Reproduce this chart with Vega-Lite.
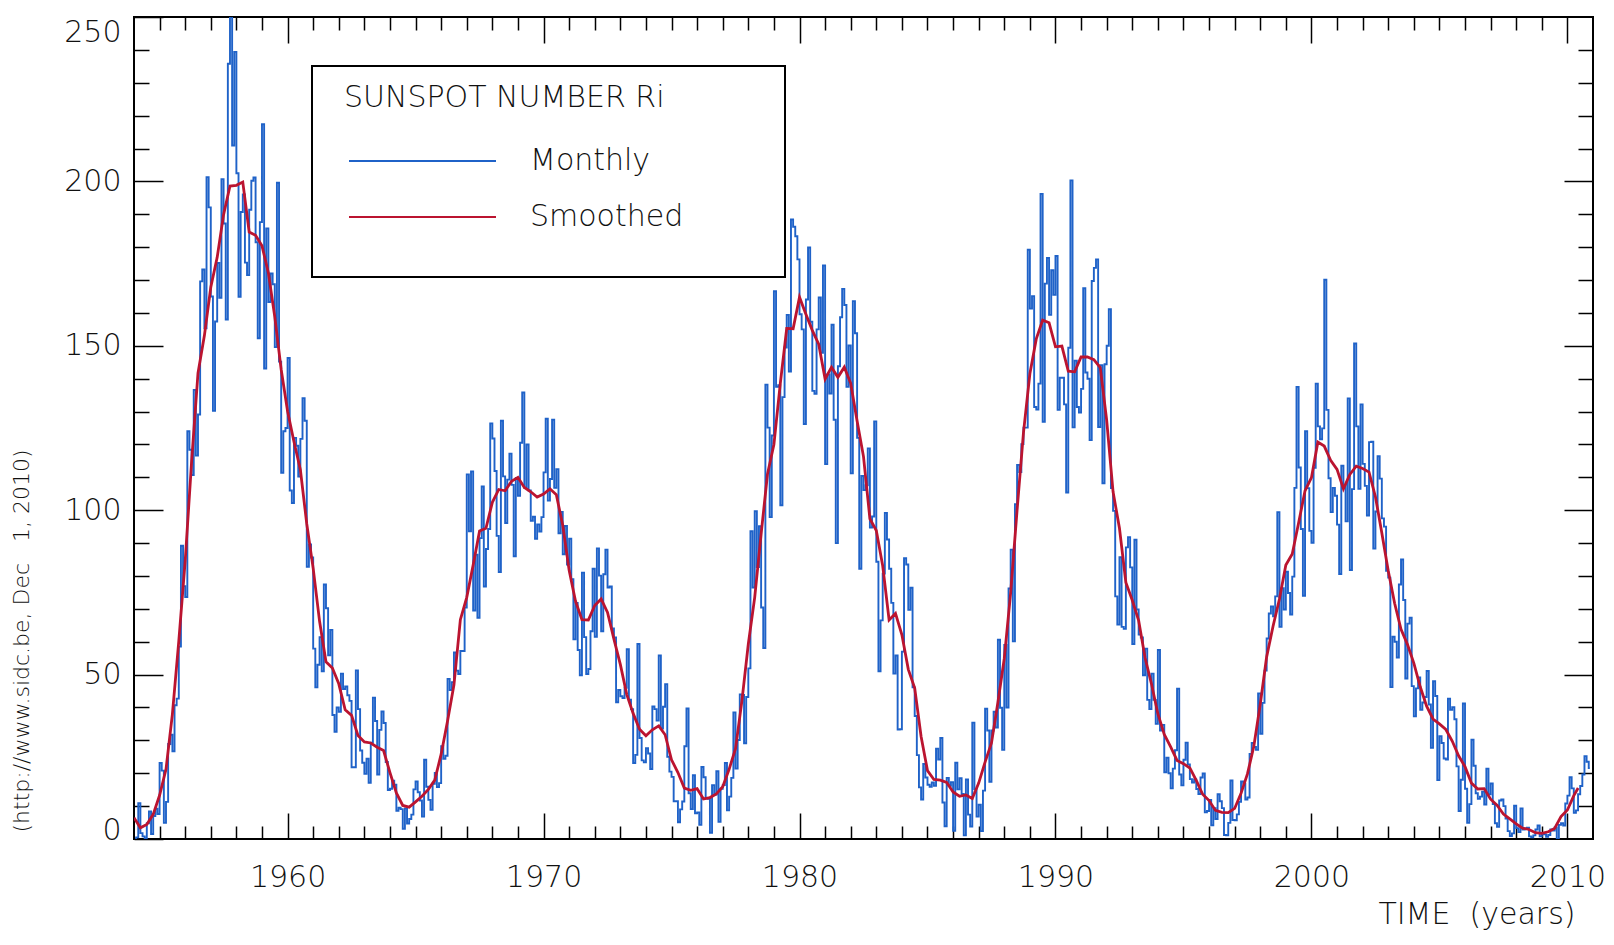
{
"$schema":"https://vega.github.io/schema/vega-lite/v6.json",
"width":1459,"height":822,
"autosize":{"type":"none"},
"padding":{"left":134,"top":17,"right":21,"bottom":106},
"background":"white",
"config":{
"view":{"stroke":"black","strokeWidth":2},
"axis":{"labelFont":"DejaVu Sans","labelFontSize":30,"labelFontWeight":200,"labelColor":"#111111","titleFont":"DejaVu Sans","titleFontSize":30,"titleFontWeight":200,"titleColor":"#111111","tickColor":"black","tickWidth":1.5,"domain":false,"grid":false}
},
"resolve":{"axis":{"x":"independent","y":"independent"}},
"datasets":{
"monthly":[
{"t":1954.042,"v":0.2},{"t":1954.125,"v":0.5},{"t":1954.208,"v":10.9},{"t":1954.292,"v":1.8},{"t":1954.375,"v":0.8},{"t":1954.458,"v":0.2},{"t":1954.542,"v":4.8},{"t":1954.625,"v":8.4},{"t":1954.708,"v":1.5},{"t":1954.792,"v":7.0},{"t":1954.875,"v":9.2},{"t":1954.958,"v":7.6},
{"t":1955.042,"v":23.1},{"t":1955.125,"v":20.8},{"t":1955.208,"v":4.9},{"t":1955.292,"v":11.3},{"t":1955.375,"v":28.9},{"t":1955.458,"v":31.7},{"t":1955.542,"v":26.7},{"t":1955.625,"v":40.7},{"t":1955.708,"v":42.7},{"t":1955.792,"v":58.5},{"t":1955.875,"v":89.2},{"t":1955.958,"v":76.9},
{"t":1956.042,"v":73.6},{"t":1956.125,"v":124.0},{"t":1956.208,"v":118.4},{"t":1956.292,"v":110.7},{"t":1956.375,"v":136.6},{"t":1956.458,"v":116.6},{"t":1956.542,"v":129.1},{"t":1956.625,"v":169.6},{"t":1956.708,"v":173.2},{"t":1956.792,"v":155.3},{"t":1956.875,"v":201.3},{"t":1956.958,"v":192.1},
{"t":1957.042,"v":165.0},{"t":1957.125,"v":130.2},{"t":1957.208,"v":157.4},{"t":1957.292,"v":175.2},{"t":1957.375,"v":164.6},{"t":1957.458,"v":200.7},{"t":1957.542,"v":187.2},{"t":1957.625,"v":158.0},{"t":1957.708,"v":235.8},{"t":1957.792,"v":253.8},{"t":1957.875,"v":210.9},{"t":1957.958,"v":239.4},
{"t":1958.042,"v":202.5},{"t":1958.125,"v":164.9},{"t":1958.208,"v":190.7},{"t":1958.292,"v":196.0},{"t":1958.375,"v":175.3},{"t":1958.458,"v":171.5},{"t":1958.542,"v":191.4},{"t":1958.625,"v":200.2},{"t":1958.708,"v":201.2},{"t":1958.792,"v":181.5},{"t":1958.875,"v":152.3},{"t":1958.958,"v":187.6},
{"t":1959.042,"v":217.4},{"t":1959.125,"v":143.1},{"t":1959.208,"v":185.7},{"t":1959.292,"v":163.3},{"t":1959.375,"v":172.0},{"t":1959.458,"v":168.7},{"t":1959.542,"v":149.6},{"t":1959.625,"v":199.6},{"t":1959.708,"v":145.2},{"t":1959.792,"v":111.4},{"t":1959.875,"v":124.0},{"t":1959.958,"v":125.0},
{"t":1960.042,"v":146.3},{"t":1960.125,"v":106.0},{"t":1960.208,"v":102.2},{"t":1960.292,"v":122.0},{"t":1960.375,"v":119.6},{"t":1960.458,"v":110.2},{"t":1960.542,"v":121.7},{"t":1960.625,"v":134.1},{"t":1960.708,"v":127.2},{"t":1960.792,"v":82.8},{"t":1960.875,"v":89.6},{"t":1960.958,"v":85.6},
{"t":1961.042,"v":57.9},{"t":1961.125,"v":46.1},{"t":1961.208,"v":53.0},{"t":1961.292,"v":61.4},{"t":1961.375,"v":51.0},{"t":1961.458,"v":77.4},{"t":1961.542,"v":70.2},{"t":1961.625,"v":55.9},{"t":1961.708,"v":63.6},{"t":1961.792,"v":37.7},{"t":1961.875,"v":32.6},{"t":1961.958,"v":40.0},
{"t":1962.042,"v":38.7},{"t":1962.125,"v":50.3},{"t":1962.208,"v":45.6},{"t":1962.292,"v":46.4},{"t":1962.375,"v":43.7},{"t":1962.458,"v":42.0},{"t":1962.542,"v":21.8},{"t":1962.625,"v":21.8},{"t":1962.708,"v":51.3},{"t":1962.792,"v":39.5},{"t":1962.875,"v":26.9},{"t":1962.958,"v":23.2},
{"t":1963.042,"v":19.8},{"t":1963.125,"v":24.4},{"t":1963.208,"v":17.1},{"t":1963.292,"v":29.3},{"t":1963.375,"v":43.0},{"t":1963.458,"v":35.9},{"t":1963.542,"v":19.6},{"t":1963.625,"v":33.2},{"t":1963.708,"v":38.8},{"t":1963.792,"v":35.3},{"t":1963.875,"v":23.4},{"t":1963.958,"v":14.9},
{"t":1964.042,"v":15.3},{"t":1964.125,"v":17.7},{"t":1964.208,"v":16.5},{"t":1964.292,"v":8.6},{"t":1964.375,"v":9.5},{"t":1964.458,"v":9.1},{"t":1964.542,"v":3.1},{"t":1964.625,"v":9.3},{"t":1964.708,"v":4.7},{"t":1964.792,"v":6.1},{"t":1964.875,"v":7.4},{"t":1964.958,"v":15.1},
{"t":1965.042,"v":17.5},{"t":1965.125,"v":14.2},{"t":1965.208,"v":11.7},{"t":1965.292,"v":6.8},{"t":1965.375,"v":24.1},{"t":1965.458,"v":15.9},{"t":1965.542,"v":11.9},{"t":1965.625,"v":8.9},{"t":1965.708,"v":16.8},{"t":1965.792,"v":20.1},{"t":1965.875,"v":15.8},{"t":1965.958,"v":17.0},
{"t":1966.042,"v":28.2},{"t":1966.125,"v":24.4},{"t":1966.208,"v":25.3},{"t":1966.292,"v":48.7},{"t":1966.375,"v":45.3},{"t":1966.458,"v":47.7},{"t":1966.542,"v":56.7},{"t":1966.625,"v":51.2},{"t":1966.708,"v":50.2},{"t":1966.792,"v":57.2},{"t":1966.875,"v":57.2},{"t":1966.958,"v":70.4},
{"t":1967.042,"v":110.9},{"t":1967.125,"v":93.6},{"t":1967.208,"v":111.8},{"t":1967.292,"v":69.5},{"t":1967.375,"v":86.5},{"t":1967.458,"v":67.3},{"t":1967.542,"v":91.5},{"t":1967.625,"v":107.2},{"t":1967.708,"v":76.8},{"t":1967.792,"v":88.2},{"t":1967.875,"v":94.3},{"t":1967.958,"v":126.4},
{"t":1968.042,"v":121.8},{"t":1968.125,"v":111.9},{"t":1968.208,"v":92.2},{"t":1968.292,"v":81.2},{"t":1968.375,"v":127.2},{"t":1968.458,"v":110.3},{"t":1968.542,"v":96.1},{"t":1968.625,"v":109.3},{"t":1968.708,"v":117.2},{"t":1968.792,"v":107.7},{"t":1968.875,"v":86.0},{"t":1968.958,"v":109.8},
{"t":1969.042,"v":104.4},{"t":1969.125,"v":120.5},{"t":1969.208,"v":135.8},{"t":1969.292,"v":106.8},{"t":1969.375,"v":120.0},{"t":1969.458,"v":106.0},{"t":1969.542,"v":96.8},{"t":1969.625,"v":98.0},{"t":1969.708,"v":91.3},{"t":1969.792,"v":95.7},{"t":1969.875,"v":93.5},{"t":1969.958,"v":97.9},
{"t":1970.042,"v":111.5},{"t":1970.125,"v":127.8},{"t":1970.208,"v":102.9},{"t":1970.292,"v":109.5},{"t":1970.375,"v":127.5},{"t":1970.458,"v":106.8},{"t":1970.542,"v":112.5},{"t":1970.625,"v":93.0},{"t":1970.708,"v":99.5},{"t":1970.792,"v":86.6},{"t":1970.875,"v":95.2},{"t":1970.958,"v":83.5},
{"t":1971.042,"v":91.3},{"t":1971.125,"v":79.0},{"t":1971.208,"v":60.7},{"t":1971.292,"v":71.8},{"t":1971.375,"v":57.5},{"t":1971.458,"v":49.8},{"t":1971.542,"v":81.0},{"t":1971.625,"v":61.4},{"t":1971.708,"v":50.2},{"t":1971.792,"v":51.7},{"t":1971.875,"v":63.2},{"t":1971.958,"v":82.2},
{"t":1972.042,"v":61.5},{"t":1972.125,"v":88.4},{"t":1972.208,"v":80.1},{"t":1972.292,"v":63.2},{"t":1972.375,"v":80.5},{"t":1972.458,"v":88.0},{"t":1972.542,"v":76.5},{"t":1972.625,"v":76.8},{"t":1972.708,"v":64.0},{"t":1972.792,"v":61.3},{"t":1972.875,"v":41.6},{"t":1972.958,"v":45.3},
{"t":1973.042,"v":43.4},{"t":1973.125,"v":42.9},{"t":1973.208,"v":46.0},{"t":1973.292,"v":57.7},{"t":1973.375,"v":42.4},{"t":1973.458,"v":39.5},{"t":1973.542,"v":23.1},{"t":1973.625,"v":25.6},{"t":1973.708,"v":59.3},{"t":1973.792,"v":30.7},{"t":1973.875,"v":23.9},{"t":1973.958,"v":23.3},
{"t":1974.042,"v":27.6},{"t":1974.125,"v":26.0},{"t":1974.208,"v":21.3},{"t":1974.292,"v":40.3},{"t":1974.375,"v":39.5},{"t":1974.458,"v":36.0},{"t":1974.542,"v":55.8},{"t":1974.625,"v":33.6},{"t":1974.708,"v":40.2},{"t":1974.792,"v":47.1},{"t":1974.875,"v":25.0},{"t":1974.958,"v":20.5},
{"t":1975.042,"v":18.9},{"t":1975.125,"v":11.5},{"t":1975.208,"v":11.5},{"t":1975.292,"v":5.1},{"t":1975.375,"v":9.0},{"t":1975.458,"v":11.4},{"t":1975.542,"v":28.2},{"t":1975.625,"v":39.7},{"t":1975.708,"v":13.9},{"t":1975.792,"v":9.1},{"t":1975.875,"v":19.4},{"t":1975.958,"v":7.8},
{"t":1976.042,"v":8.1},{"t":1976.125,"v":4.3},{"t":1976.208,"v":21.9},{"t":1976.292,"v":18.8},{"t":1976.375,"v":12.4},{"t":1976.458,"v":12.2},{"t":1976.542,"v":1.9},{"t":1976.625,"v":16.4},{"t":1976.708,"v":13.5},{"t":1976.792,"v":20.6},{"t":1976.875,"v":5.2},{"t":1976.958,"v":15.3},
{"t":1977.042,"v":16.4},{"t":1977.125,"v":23.1},{"t":1977.208,"v":8.7},{"t":1977.292,"v":12.9},{"t":1977.375,"v":18.6},{"t":1977.458,"v":38.5},{"t":1977.542,"v":21.4},{"t":1977.625,"v":30.1},{"t":1977.708,"v":44.0},{"t":1977.792,"v":43.8},{"t":1977.875,"v":29.1},{"t":1977.958,"v":43.2},
{"t":1978.042,"v":51.9},{"t":1978.125,"v":93.6},{"t":1978.208,"v":76.5},{"t":1978.292,"v":99.7},{"t":1978.375,"v":82.7},{"t":1978.458,"v":95.1},{"t":1978.542,"v":70.4},{"t":1978.625,"v":58.1},{"t":1978.708,"v":138.2},{"t":1978.792,"v":125.1},{"t":1978.875,"v":97.9},{"t":1978.958,"v":122.7},
{"t":1979.042,"v":166.6},{"t":1979.125,"v":137.5},{"t":1979.208,"v":138.0},{"t":1979.292,"v":101.5},{"t":1979.375,"v":134.4},{"t":1979.458,"v":149.5},{"t":1979.542,"v":159.4},{"t":1979.625,"v":142.2},{"t":1979.708,"v":188.4},{"t":1979.792,"v":186.2},{"t":1979.875,"v":183.3},{"t":1979.958,"v":176.3},
{"t":1980.042,"v":159.6},{"t":1980.125,"v":155.0},{"t":1980.208,"v":126.2},{"t":1980.292,"v":164.1},{"t":1980.375,"v":179.9},{"t":1980.458,"v":157.3},{"t":1980.542,"v":136.3},{"t":1980.625,"v":135.4},{"t":1980.708,"v":155.0},{"t":1980.792,"v":164.7},{"t":1980.875,"v":147.9},{"t":1980.958,"v":174.4},
{"t":1981.042,"v":114.0},{"t":1981.125,"v":141.3},{"t":1981.208,"v":135.5},{"t":1981.292,"v":156.4},{"t":1981.375,"v":127.5},{"t":1981.458,"v":90.0},{"t":1981.542,"v":143.8},{"t":1981.625,"v":158.7},{"t":1981.708,"v":167.3},{"t":1981.792,"v":162.4},{"t":1981.875,"v":137.5},{"t":1981.958,"v":150.1},
{"t":1982.042,"v":111.2},{"t":1982.125,"v":163.6},{"t":1982.208,"v":153.8},{"t":1982.292,"v":122.0},{"t":1982.375,"v":82.2},{"t":1982.458,"v":110.4},{"t":1982.542,"v":106.1},{"t":1982.625,"v":107.6},{"t":1982.708,"v":118.8},{"t":1982.792,"v":94.7},{"t":1982.875,"v":98.1},{"t":1982.958,"v":127.0},
{"t":1983.042,"v":84.3},{"t":1983.125,"v":51.0},{"t":1983.208,"v":66.5},{"t":1983.292,"v":80.7},{"t":1983.375,"v":99.2},{"t":1983.458,"v":91.1},{"t":1983.542,"v":82.2},{"t":1983.625,"v":71.8},{"t":1983.708,"v":50.3},{"t":1983.792,"v":55.8},{"t":1983.875,"v":33.3},{"t":1983.958,"v":33.4},
{"t":1984.042,"v":57.0},{"t":1984.125,"v":85.4},{"t":1984.208,"v":83.5},{"t":1984.292,"v":69.7},{"t":1984.375,"v":76.4},{"t":1984.458,"v":46.1},{"t":1984.542,"v":37.4},{"t":1984.625,"v":25.5},{"t":1984.708,"v":15.7},{"t":1984.792,"v":12.0},{"t":1984.875,"v":22.8},{"t":1984.958,"v":18.7},
{"t":1985.042,"v":16.5},{"t":1985.125,"v":15.9},{"t":1985.208,"v":17.2},{"t":1985.292,"v":16.2},{"t":1985.375,"v":27.5},{"t":1985.458,"v":24.2},{"t":1985.542,"v":30.7},{"t":1985.625,"v":11.1},{"t":1985.708,"v":3.9},{"t":1985.792,"v":18.6},{"t":1985.875,"v":16.2},{"t":1985.958,"v":17.3},
{"t":1986.042,"v":2.5},{"t":1986.125,"v":23.2},{"t":1986.208,"v":15.1},{"t":1986.292,"v":18.5},{"t":1986.375,"v":13.7},{"t":1986.458,"v":1.1},{"t":1986.542,"v":18.1},{"t":1986.625,"v":7.4},{"t":1986.708,"v":3.8},{"t":1986.792,"v":35.4},{"t":1986.875,"v":15.2},{"t":1986.958,"v":6.8},
{"t":1987.042,"v":10.4},{"t":1987.125,"v":2.4},{"t":1987.208,"v":14.7},{"t":1987.292,"v":39.6},{"t":1987.375,"v":33.0},{"t":1987.458,"v":17.4},{"t":1987.542,"v":33.0},{"t":1987.625,"v":38.7},{"t":1987.708,"v":33.9},{"t":1987.792,"v":60.6},{"t":1987.875,"v":39.9},{"t":1987.958,"v":27.1},
{"t":1988.042,"v":59.0},{"t":1988.125,"v":40.0},{"t":1988.208,"v":76.2},{"t":1988.292,"v":88.0},{"t":1988.375,"v":60.1},{"t":1988.458,"v":101.8},{"t":1988.542,"v":113.8},{"t":1988.625,"v":111.6},{"t":1988.708,"v":120.1},{"t":1988.792,"v":125.1},{"t":1988.875,"v":125.1},{"t":1988.958,"v":179.2},
{"t":1989.042,"v":161.3},{"t":1989.125,"v":165.1},{"t":1989.208,"v":131.4},{"t":1989.292,"v":130.6},{"t":1989.375,"v":138.5},{"t":1989.458,"v":196.2},{"t":1989.542,"v":126.9},{"t":1989.625,"v":168.9},{"t":1989.708,"v":176.7},{"t":1989.792,"v":159.4},{"t":1989.875,"v":173.0},{"t":1989.958,"v":165.5},
{"t":1990.042,"v":177.3},{"t":1990.125,"v":130.5},{"t":1990.208,"v":140.3},{"t":1990.292,"v":140.3},{"t":1990.375,"v":132.2},{"t":1990.458,"v":105.4},{"t":1990.542,"v":149.4},{"t":1990.625,"v":200.3},{"t":1990.708,"v":125.2},{"t":1990.792,"v":145.5},{"t":1990.875,"v":131.4},{"t":1990.958,"v":129.7},
{"t":1991.042,"v":136.9},{"t":1991.125,"v":167.5},{"t":1991.208,"v":141.9},{"t":1991.292,"v":140.0},{"t":1991.375,"v":121.3},{"t":1991.458,"v":169.7},{"t":1991.542,"v":173.7},{"t":1991.625,"v":176.3},{"t":1991.708,"v":125.3},{"t":1991.792,"v":144.1},{"t":1991.875,"v":108.2},{"t":1991.958,"v":144.4},
{"t":1992.042,"v":150.0},{"t":1992.125,"v":161.1},{"t":1992.208,"v":106.7},{"t":1992.292,"v":99.8},{"t":1992.375,"v":73.8},{"t":1992.458,"v":65.2},{"t":1992.542,"v":85.7},{"t":1992.625,"v":64.5},{"t":1992.708,"v":63.9},{"t":1992.792,"v":88.7},{"t":1992.875,"v":91.8},{"t":1992.958,"v":82.6},
{"t":1993.042,"v":59.3},{"t":1993.125,"v":91.0},{"t":1993.208,"v":69.8},{"t":1993.292,"v":62.2},{"t":1993.375,"v":61.3},{"t":1993.458,"v":49.8},{"t":1993.542,"v":57.9},{"t":1993.625,"v":42.3},{"t":1993.708,"v":39.5},{"t":1993.792,"v":50.3},{"t":1993.875,"v":42.3},{"t":1993.958,"v":35.0},
{"t":1994.042,"v":57.5},{"t":1994.125,"v":33.0},{"t":1994.208,"v":34.7},{"t":1994.292,"v":20.3},{"t":1994.375,"v":24.7},{"t":1994.458,"v":20.0},{"t":1994.542,"v":15.4},{"t":1994.625,"v":21.4},{"t":1994.708,"v":27.0},{"t":1994.792,"v":45.7},{"t":1994.875,"v":19.6},{"t":1994.958,"v":16.3},
{"t":1995.042,"v":24.1},{"t":1995.125,"v":29.3},{"t":1995.208,"v":22.7},{"t":1995.292,"v":18.2},{"t":1995.375,"v":17.2},{"t":1995.458,"v":18.1},{"t":1995.542,"v":15.2},{"t":1995.625,"v":13.7},{"t":1995.708,"v":18.7},{"t":1995.792,"v":19.9},{"t":1995.875,"v":8.1},{"t":1995.958,"v":8.5},
{"t":1996.042,"v":11.9},{"t":1996.125,"v":4.2},{"t":1996.208,"v":9.4},{"t":1996.292,"v":6.1},{"t":1996.375,"v":13.6},{"t":1996.458,"v":11.5},{"t":1996.542,"v":9.4},{"t":1996.625,"v":1.2},{"t":1996.708,"v":1.1},{"t":1996.792,"v":4.9},{"t":1996.875,"v":17.8},{"t":1996.958,"v":5.8},
{"t":1997.042,"v":5.7},{"t":1997.125,"v":7.5},{"t":1997.208,"v":11.3},{"t":1997.292,"v":17.5},{"t":1997.375,"v":16.8},{"t":1997.458,"v":12.0},{"t":1997.542,"v":12.6},{"t":1997.625,"v":25.9},{"t":1997.708,"v":29.2},{"t":1997.792,"v":28.0},{"t":1997.875,"v":27.1},{"t":1997.958,"v":44.3},
{"t":1998.042,"v":32.0},{"t":1998.125,"v":41.4},{"t":1998.208,"v":51.2},{"t":1998.292,"v":61.0},{"t":1998.375,"v":68.6},{"t":1998.458,"v":70.7},{"t":1998.542,"v":67.7},{"t":1998.625,"v":73.8},{"t":1998.708,"v":99.4},{"t":1998.792,"v":64.5},{"t":1998.875,"v":76.3},{"t":1998.958,"v":69.8},
{"t":1999.042,"v":81.3},{"t":1999.125,"v":74.8},{"t":1999.208,"v":68.3},{"t":1999.292,"v":79.8},{"t":1999.375,"v":106.8},{"t":1999.458,"v":137.5},{"t":1999.542,"v":113.0},{"t":1999.625,"v":94.3},{"t":1999.708,"v":74.0},{"t":1999.792,"v":124.0},{"t":1999.875,"v":106.7},{"t":1999.958,"v":93.7},
{"t":2000.042,"v":90.1},{"t":2000.125,"v":112.9},{"t":2000.208,"v":138.5},{"t":2000.292,"v":125.5},{"t":2000.375,"v":121.6},{"t":2000.458,"v":124.9},{"t":2000.542,"v":170.1},{"t":2000.625,"v":130.5},{"t":2000.708,"v":109.7},{"t":2000.792,"v":99.4},{"t":2000.875,"v":106.8},{"t":2000.958,"v":104.4},
{"t":2001.042,"v":95.6},{"t":2001.125,"v":80.6},{"t":2001.208,"v":113.5},{"t":2001.292,"v":107.7},{"t":2001.375,"v":96.6},{"t":2001.458,"v":134.0},{"t":2001.542,"v":81.8},{"t":2001.625,"v":106.4},{"t":2001.708,"v":150.7},{"t":2001.792,"v":125.5},{"t":2001.875,"v":106.5},{"t":2001.958,"v":132.2},
{"t":2002.042,"v":114.1},{"t":2002.125,"v":107.4},{"t":2002.208,"v":98.4},{"t":2002.292,"v":120.7},{"t":2002.375,"v":120.8},{"t":2002.458,"v":88.3},{"t":2002.542,"v":99.6},{"t":2002.625,"v":116.4},{"t":2002.708,"v":109.6},{"t":2002.792,"v":97.5},{"t":2002.875,"v":95.0},{"t":2002.958,"v":81.6},
{"t":2003.042,"v":79.5},{"t":2003.125,"v":46.2},{"t":2003.208,"v":61.5},{"t":2003.292,"v":60.0},{"t":2003.375,"v":55.2},{"t":2003.458,"v":77.4},{"t":2003.542,"v":85.0},{"t":2003.625,"v":72.7},{"t":2003.708,"v":48.8},{"t":2003.792,"v":65.5},{"t":2003.875,"v":67.3},{"t":2003.958,"v":46.5},
{"t":2004.042,"v":37.3},{"t":2004.125,"v":45.8},{"t":2004.208,"v":49.1},{"t":2004.292,"v":39.3},{"t":2004.375,"v":41.5},{"t":2004.458,"v":43.2},{"t":2004.542,"v":51.1},{"t":2004.625,"v":40.9},{"t":2004.708,"v":27.7},{"t":2004.792,"v":48.0},{"t":2004.875,"v":43.5},{"t":2004.958,"v":17.9},
{"t":2005.042,"v":31.3},{"t":2005.125,"v":29.2},{"t":2005.208,"v":24.5},{"t":2005.292,"v":24.2},{"t":2005.375,"v":42.7},{"t":2005.458,"v":39.3},{"t":2005.542,"v":40.1},{"t":2005.625,"v":36.4},{"t":2005.708,"v":22.1},{"t":2005.792,"v":8.5},{"t":2005.875,"v":18.0},{"t":2005.958,"v":41.2},
{"t":2006.042,"v":15.3},{"t":2006.125,"v":4.9},{"t":2006.208,"v":10.6},{"t":2006.292,"v":30.2},{"t":2006.375,"v":22.3},{"t":2006.458,"v":13.9},{"t":2006.542,"v":12.2},{"t":2006.625,"v":12.9},{"t":2006.708,"v":14.4},{"t":2006.792,"v":10.5},{"t":2006.875,"v":21.4},{"t":2006.958,"v":13.6},
{"t":2007.042,"v":16.9},{"t":2007.125,"v":10.6},{"t":2007.208,"v":4.8},{"t":2007.292,"v":3.7},{"t":2007.375,"v":11.7},{"t":2007.458,"v":12.0},{"t":2007.542,"v":10.0},{"t":2007.625,"v":6.2},{"t":2007.708,"v":2.4},{"t":2007.792,"v":0.9},{"t":2007.875,"v":1.7},{"t":2007.958,"v":10.1},
{"t":2008.042,"v":3.3},{"t":2008.125,"v":2.1},{"t":2008.208,"v":9.3},{"t":2008.292,"v":2.9},{"t":2008.375,"v":3.2},{"t":2008.458,"v":3.4},{"t":2008.542,"v":0.8},{"t":2008.625,"v":0.5},{"t":2008.708,"v":1.1},{"t":2008.792,"v":2.9},{"t":2008.875,"v":4.1},{"t":2008.958,"v":0.8},
{"t":2009.042,"v":1.5},{"t":2009.125,"v":1.4},{"t":2009.208,"v":0.7},{"t":2009.292,"v":1.2},{"t":2009.375,"v":2.9},{"t":2009.458,"v":2.6},{"t":2009.542,"v":3.5},{"t":2009.625,"v":0.0},{"t":2009.708,"v":4.3},{"t":2009.792,"v":4.8},{"t":2009.875,"v":4.1},{"t":2009.958,"v":10.8},
{"t":2010.042,"v":13.2},{"t":2010.125,"v":18.8},{"t":2010.208,"v":15.4},{"t":2010.292,"v":8.0},{"t":2010.375,"v":8.7},{"t":2010.458,"v":13.6},{"t":2010.542,"v":16.1},{"t":2010.625,"v":19.6},{"t":2010.708,"v":25.2},{"t":2010.792,"v":23.5},{"t":2010.875,"v":21.6}
],
"smoothed":[
{"t":1954.0,"v":6.5},{"t":1954.25,"v":3.4},{"t":1954.5,"v":4.4},{"t":1954.75,"v":7.5},
{"t":1955.0,"v":13.3},{"t":1955.25,"v":21.2},{"t":1955.5,"v":38.0},{"t":1955.75,"v":60.2},
{"t":1956.0,"v":84.6},{"t":1956.25,"v":114.7},{"t":1956.5,"v":141.7},{"t":1956.75,"v":153.1},
{"t":1957.0,"v":167.8},{"t":1957.25,"v":176.9},{"t":1957.5,"v":189.9},{"t":1957.75,"v":198.6},
{"t":1958.0,"v":198.8},{"t":1958.25,"v":199.8},{"t":1958.5,"v":184.6},{"t":1958.75,"v":183.6},
{"t":1959.0,"v":180.4},{"t":1959.25,"v":172.2},{"t":1959.5,"v":158.8},{"t":1959.75,"v":142.8},
{"t":1960.0,"v":130.1},{"t":1960.25,"v":120.8},{"t":1960.5,"v":112.3},{"t":1960.75,"v":95.8},
{"t":1961.0,"v":82.3},{"t":1961.25,"v":66.2},{"t":1961.5,"v":53.9},{"t":1961.75,"v":52.0},
{"t":1962.0,"v":47.2},{"t":1962.25,"v":39.3},{"t":1962.5,"v":37.6},{"t":1962.75,"v":31.5},
{"t":1963.0,"v":29.5},{"t":1963.25,"v":29.2},{"t":1963.5,"v":27.9},{"t":1963.75,"v":26.9},
{"t":1964.0,"v":20.2},{"t":1964.25,"v":14.0},{"t":1964.5,"v":10.2},{"t":1964.75,"v":9.7},
{"t":1965.0,"v":11.3},{"t":1965.25,"v":13.0},{"t":1965.5,"v":15.1},{"t":1965.75,"v":17.9},
{"t":1966.0,"v":25.8},{"t":1966.25,"v":35.9},{"t":1966.5,"v":46.9},{"t":1966.75,"v":66.7},
{"t":1967.0,"v":73.5},{"t":1967.25,"v":83.3},{"t":1967.5,"v":93.7},{"t":1967.75,"v":94.5},
{"t":1968.0,"v":102.4},{"t":1968.25,"v":106.3},{"t":1968.5,"v":105.9},{"t":1968.75,"v":108.8},
{"t":1969.0,"v":110.0},{"t":1969.25,"v":106.9},{"t":1969.5,"v":105.6},{"t":1969.75,"v":104.0},
{"t":1970.0,"v":104.9},{"t":1970.25,"v":106.5},{"t":1970.5,"v":104.7},{"t":1970.75,"v":95.4},
{"t":1971.0,"v":81.7},{"t":1971.25,"v":72.3},{"t":1971.5,"v":66.7},{"t":1971.75,"v":66.6},
{"t":1972.0,"v":71.0},{"t":1972.25,"v":73.0},{"t":1972.5,"v":68.9},{"t":1972.75,"v":60.8},
{"t":1973.0,"v":53.1},{"t":1973.25,"v":44.0},{"t":1973.5,"v":38.2},{"t":1973.75,"v":33.4},
{"t":1974.0,"v":31.4},{"t":1974.25,"v":33.2},{"t":1974.5,"v":34.4},{"t":1974.75,"v":31.7},
{"t":1975.0,"v":24.1},{"t":1975.25,"v":20.2},{"t":1975.5,"v":15.5},{"t":1975.75,"v":14.8},
{"t":1976.0,"v":15.3},{"t":1976.25,"v":12.2},{"t":1976.5,"v":12.6},{"t":1976.75,"v":13.7},
{"t":1977.0,"v":15.9},{"t":1977.25,"v":21.2},{"t":1977.5,"v":27.5},{"t":1977.75,"v":42.0},
{"t":1978.0,"v":59.3},{"t":1978.25,"v":73.5},{"t":1978.5,"v":92.7},{"t":1978.75,"v":111.0},
{"t":1979.0,"v":120.0},{"t":1979.25,"v":138.6},{"t":1979.5,"v":155.3},{"t":1979.75,"v":155.2},
{"t":1980.0,"v":164.8},{"t":1980.25,"v":159.6},{"t":1980.5,"v":154.7},{"t":1980.75,"v":150.5},
{"t":1981.0,"v":139.9},{"t":1981.25,"v":143.5},{"t":1981.5,"v":140.4},{"t":1981.75,"v":143.5},
{"t":1982.0,"v":138.6},{"t":1982.25,"v":127.1},{"t":1982.5,"v":116.3},{"t":1982.75,"v":97.4},
{"t":1983.0,"v":93.8},{"t":1983.25,"v":83.1},{"t":1983.5,"v":66.6},{"t":1983.75,"v":68.6},
{"t":1984.0,"v":62.1},{"t":1984.25,"v":51.6},{"t":1984.5,"v":45.9},{"t":1984.75,"v":31.2},
{"t":1985.0,"v":20.8},{"t":1985.25,"v":18.1},{"t":1985.5,"v":17.9},{"t":1985.75,"v":17.2},
{"t":1986.0,"v":14.3},{"t":1986.25,"v":13.0},{"t":1986.5,"v":13.4},{"t":1986.75,"v":12.3},
{"t":1987.0,"v":17.0},{"t":1987.25,"v":23.4},{"t":1987.5,"v":29.2},{"t":1987.75,"v":41.5},
{"t":1988.0,"v":54.9},{"t":1988.25,"v":74.9},{"t":1988.5,"v":100.0},{"t":1988.75,"v":123.6},
{"t":1989.0,"v":141.5},{"t":1989.25,"v":152.1},{"t":1989.5,"v":157.8},{"t":1989.75,"v":157.0},
{"t":1990.0,"v":149.7},{"t":1990.25,"v":149.9},{"t":1990.5,"v":142.3},{"t":1990.75,"v":142.1},
{"t":1991.0,"v":146.6},{"t":1991.25,"v":146.6},{"t":1991.5,"v":145.8},{"t":1991.75,"v":143.4},
{"t":1992.0,"v":127.4},{"t":1992.25,"v":105.6},{"t":1992.5,"v":94.5},{"t":1992.75,"v":78.0},
{"t":1993.0,"v":72.6},{"t":1993.25,"v":66.4},{"t":1993.5,"v":55.1},{"t":1993.75,"v":47.2},
{"t":1994.0,"v":38.1},{"t":1994.25,"v":31.8},{"t":1994.5,"v":28.0},{"t":1994.75,"v":23.9},
{"t":1995.0,"v":22.9},{"t":1995.25,"v":21.6},{"t":1995.5,"v":17.8},{"t":1995.75,"v":13.6},
{"t":1996.0,"v":11.7},{"t":1996.25,"v":8.7},{"t":1996.5,"v":8.1},{"t":1996.75,"v":8.0},
{"t":1997.0,"v":9.3},{"t":1997.25,"v":13.9},{"t":1997.5,"v":19.8},{"t":1997.75,"v":28.2},
{"t":1998.0,"v":41.0},{"t":1998.25,"v":55.4},{"t":1998.5,"v":64.7},{"t":1998.75,"v":73.0},
{"t":1999.0,"v":83.3},{"t":1999.25,"v":86.7},{"t":1999.5,"v":96.2},{"t":1999.75,"v":105.9},
{"t":2000.0,"v":109.9},{"t":2000.25,"v":120.7},{"t":2000.5,"v":119.5},{"t":2000.75,"v":115.2},
{"t":2001.0,"v":112.4},{"t":2001.25,"v":106.5},{"t":2001.5,"v":110.9},{"t":2001.75,"v":113.4},
{"t":2002.0,"v":112.7},{"t":2002.25,"v":111.6},{"t":2002.5,"v":104.1},{"t":2002.75,"v":93.1},
{"t":2003.0,"v":81.6},{"t":2003.25,"v":71.7},{"t":2003.5,"v":63.8},{"t":2003.75,"v":59.2},
{"t":2004.0,"v":53.5},{"t":2004.25,"v":46.3},{"t":2004.5,"v":40.4},{"t":2004.75,"v":36.5},
{"t":2005.0,"v":35.0},{"t":2005.25,"v":33.3},{"t":2005.5,"v":29.8},{"t":2005.75,"v":25.3},
{"t":2006.0,"v":22.0},{"t":2006.25,"v":17.0},{"t":2006.5,"v":15.2},{"t":2006.75,"v":15.3},
{"t":2007.0,"v":12.1},{"t":2007.25,"v":10.3},{"t":2007.5,"v":7.6},{"t":2007.75,"v":6.1},
{"t":2008.0,"v":4.6},{"t":2008.25,"v":3.3},{"t":2008.5,"v":2.9},{"t":2008.75,"v":1.9},
{"t":2009.0,"v":1.7},{"t":2009.25,"v":2.2},{"t":2009.5,"v":3.2},{"t":2009.75,"v":6.8},
{"t":2010.0,"v":8.8},{"t":2010.25,"v":13.2},{"t":2010.42,"v":15.5}
]
},
"layer":[
{
"data":{"name":"monthly"},
"mark":{"type":"line","interpolate":"step","strokeWidth":1.9,"clip":true},
"encoding":{
"x":{"field":"t","type":"quantitative","scale":{"domain":[1954,2011],"nice":false,"zero":false},
"axis":{"orient":"bottom","values":[1960,1970,1980,1990,2000,2010],"format":"d","tickSize":-26,"labelPadding":49,"labelOverlap":false,"labelFlush":false,"labelBaseline":"top","title":"TIME\u00a0\u00a0(years)","titleX":1441,"titleY":75,"titleAlign":"right","titleBaseline":"middle","titleAngle":0}},
"y":{"field":"v","type":"quantitative","scale":{"domain":[0,250],"nice":false,"zero":false},
"axis":{"orient":"left","values":[0,50,100,150,200,250],"tickSize":-29,"labelPadding":42,"labelOverlap":false,"labelFlush":false,"labelAlign":"right",
"labelBaseline":{"condition":[{"test":"datum.value == 0","value":"alphabetic"},{"test":"datum.value == 250","value":"top"}],"value":"middle"},
"title":"(http://www.sidc.be, Dec\u00a0\u00a0\u00a01, 2010)","titleFontSize":22,"titleX":-113,"titleY":815,"titleAngle":270,"titleAlign":"left","titleBaseline":"middle"}},
"color":{"datum":"Monthly","type":"nominal","scale":{"domain":["Monthly","Smoothed"],"range":["#1f62c8","#bb1430"]},
"legend":{"orient":"none","legendX":178,"legendY":49,"direction":"vertical",
"title":"SUNSPOT NUMBER Ri\u2800\u2800\u2800\u2800",
"titleFont":"DejaVu Sans","titleFontSize":30,"titleFontWeight":200,"titleColor":"#111111","titleLimit":2000,"titlePadding":5,"titleAnchor":"start","titleBaseline":"middle",
"labelFont":"DejaVu Sans","labelFontSize":30,"labelFontWeight":200,"labelColor":"#111111","labelLimit":1000,"labelOffset":33,
"symbolType":"stroke","symbolSize":21609,"symbolStrokeWidth":2,"symbolOffset":4,
"clipHeight":56,"rowPadding":0,"padding":32,"strokeColor":"black","fillColor":"white",
"encode":{"legend":{"update":{"strokeWidth":{"value":2}}}}}}
}
},
{
"data":{"name":"smoothed"},
"mark":{"type":"line","strokeWidth":2.8,"clip":true},
"encoding":{
"x":{"field":"t","type":"quantitative","axis":{"orient":"bottom","values":[1955,1956,1957,1958,1959,1961,1962,1963,1964,1965,1966,1967,1968,1969,1971,1972,1973,1974,1975,1976,1977,1978,1979,1981,1982,1983,1984,1985,1986,1987,1988,1989,1991,1992,1993,1994,1995,1996,1997,1998,1999,2001,2002,2003,2004,2005,2006,2007,2008,2009],"tickSize":-13,"labels":false,"title":null}},
"y":{"field":"v","type":"quantitative","axis":{"orient":"left","values":[10,20,30,40,60,70,80,90,110,120,130,140,160,170,180,190,210,220,230,240],"tickSize":-15,"labels":false,"title":null}},
"color":{"datum":"Smoothed","type":"nominal"}
}
},
{
"data":{"name":"smoothed"},
"mark":{"type":"point","opacity":0},
"encoding":{
"x":{"field":"t","type":"quantitative","axis":{"orient":"top","values":[1960,1970,1980,1990,2000,2010],"tickSize":-26,"labels":false,"title":null}},
"y":{"field":"v","type":"quantitative","axis":{"orient":"right","values":[50,100,150,200],"tickSize":-29,"labels":false,"title":null}}
}
},
{
"data":{"name":"smoothed"},
"mark":{"type":"point","opacity":0},
"encoding":{
"x":{"field":"t","type":"quantitative","axis":{"orient":"top","values":[1955,1956,1957,1958,1959,1961,1962,1963,1964,1965,1966,1967,1968,1969,1971,1972,1973,1974,1975,1976,1977,1978,1979,1981,1982,1983,1984,1985,1986,1987,1988,1989,1991,1992,1993,1994,1995,1996,1997,1998,1999,2001,2002,2003,2004,2005,2006,2007,2008,2009],"tickSize":-13,"labels":false,"title":null}},
"y":{"field":"v","type":"quantitative","axis":{"orient":"right","values":[10,20,30,40,60,70,80,90,110,120,130,140,160,170,180,190,210,220,230,240],"tickSize":-15,"labels":false,"title":null}}
}
}
]
}
